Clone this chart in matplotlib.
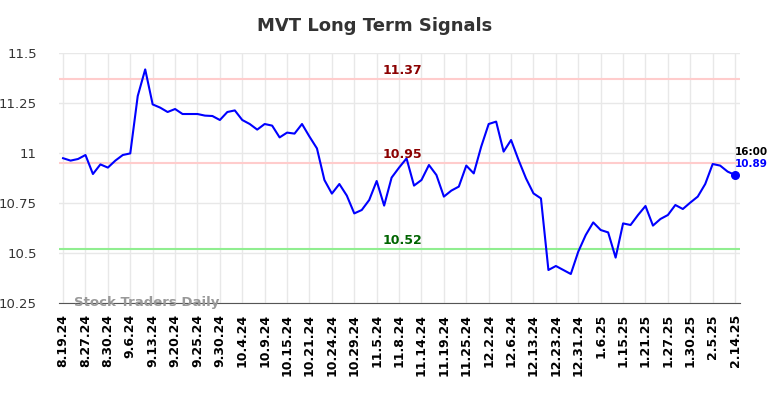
import matplotlib
matplotlib.use('Agg')
import matplotlib.pyplot as plt
import numpy as np

# closing prices
prices = [
    10.974, 10.962, 10.970, 10.990, 10.895, 10.943, 10.927, 10.962, 10.990, 10.998,
    11.285, 11.418, 11.243, 11.227, 11.205, 11.220, 11.195, 11.195, 11.195, 11.187,
    11.185, 11.165, 11.205, 11.213, 11.165, 11.145, 11.117, 11.145, 11.137, 11.078,
    11.102, 11.097, 11.145, 11.082, 11.023, 10.865, 10.797, 10.845, 10.787, 10.698,
    10.715, 10.765, 10.860, 10.737, 10.877, 10.927, 10.973, 10.837, 10.865, 10.940,
    10.890, 10.782, 10.812, 10.832, 10.937, 10.898, 11.032, 11.145, 11.157, 11.007,
    11.065, 10.965, 10.873, 10.798, 10.773, 10.415, 10.435, 10.415, 10.395, 10.507,
    10.590, 10.653, 10.615, 10.603, 10.477, 10.648, 10.640, 10.690, 10.735, 10.637,
    10.670, 10.690, 10.740, 10.720, 10.752, 10.782, 10.845, 10.945, 10.937, 10.907,
    10.890,
]
tick_labels = ['8.19.24', '8.27.24', '8.30.24', '9.6.24', '9.13.24', '9.20.24', '9.25.24',
               '9.30.24', '10.4.24', '10.9.24', '10.15.24', '10.21.24', '10.24.24',
               '10.29.24', '11.5.24', '11.8.24', '11.14.24', '11.19.24', '11.25.24',
               '12.2.24', '12.6.24', '12.13.24', '12.23.24', '12.31.24', '1.6.25',
               '1.15.25', '1.21.25', '1.27.25', '1.30.25', '2.5.25', '2.14.25']
upper_levels = [11.37, 10.95]
support_level = 10.52
last_time = '16:00'

x = np.arange(len(prices))

fig = plt.figure(figsize=(7.84, 3.98), dpi=100)
ax = fig.add_axes([0.0753, 0.2387, 0.8686, 0.6281])

# signal lines
for lvl in upper_levels:
    ax.axhline(lvl, color='#ffcccc', lw=1.5, zorder=1)
ax.axhline(support_level, color='#90ee90', lw=1.5, zorder=1)

ax.plot(x, prices, color='#0000ff', lw=1.5, zorder=3)
ax.scatter([x[-1]], [prices[-1]], color='#0000ff', s=30, zorder=4)

mid = 45.5
for lvl in upper_levels:
    ax.text(mid, lvl + 0.01, f'{lvl:.2f}', color='#8b0000', fontsize=9, fontweight='bold',
            ha='center', va='bottom')
ax.text(mid, support_level + 0.01, f'{support_level:.2f}', color='#006400', fontsize=9,
        fontweight='bold', ha='center', va='bottom')

# last price annotation
ax.text(x[-1], prices[-1] + 0.115, last_time, color='black', fontsize=7.5,
        fontweight='bold', ha='left', va='center')
ax.text(x[-1], prices[-1] + 0.055, f'{prices[-1]:.2f}', color='#0000ff', fontsize=7.5,
        fontweight='bold', ha='left', va='center')

ax.text(1.5, 10.25, 'Stock Traders Daily', color='#999999', fontsize=9.5,
        fontweight='bold', ha='left', va='center', zorder=5)

ax.set_xlim(-0.54, 90.66)
ax.set_ylim(10.25, 11.5)
ax.set_xticks(x[::3])
ax.set_xticklabels(tick_labels, rotation=90, fontsize=9, fontweight='bold')
ax.set_yticks([10.25, 10.5, 10.75, 11.0, 11.25, 11.5])
ax.set_yticklabels(['10.25', '10.5', '10.75', '11', '11.25', '11.5'], fontsize=9.5, color='#333333')
ax.tick_params(length=0, pad=8)
ax.tick_params(axis='y', pad=16)

ax.grid(True, color='#e8e8e8', lw=1)
ax.set_axisbelow(True)
for s in ['top', 'right', 'left']:
    ax.spines[s].set_visible(False)
ax.spines['bottom'].set_color('#555555')

fig.text(375 / 784, 1 - 26 / 398, 'MVT Long Term Signals', fontsize=13, fontweight='bold',
         color='#333333', ha='center', va='center')

fig.savefig('out.png', dpi=100)
